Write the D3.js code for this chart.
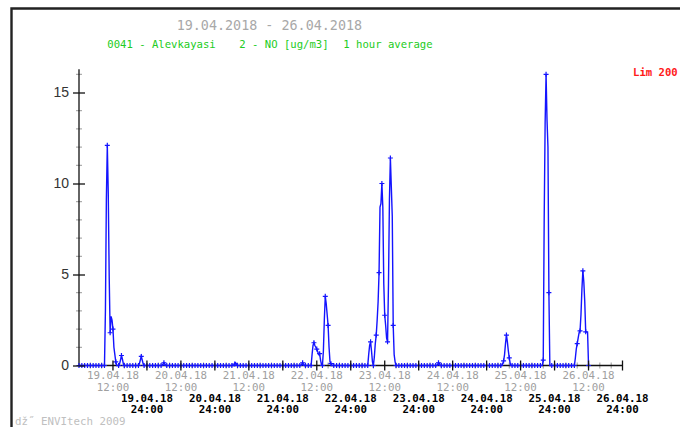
<!DOCTYPE html>
<html>
<head>
<meta charset="utf-8">
<script src="https://cdn.jsdelivr.net/npm/d3@7"></script>
<style>
  body { margin: 0; background: #fff; }
  svg { display: block; }
  text { font-family: "DejaVu Sans Mono", "Liberation Mono", monospace; }
</style>
</head>
<body>
<div id="chart"></div>
<script>
// period shown on the time axis
var periodStart = "2018-04-19 00:00";
var periodEnd = "2018-04-27 00:00";
var dataEnd = "2018-04-26 12:00";
var stepMinutes = 20; // resolution of the plotted line, markers sit on whole hours

// stretches where NO was above zero (everything else is 0)
var episodeStarts = [
  "2018-04-19 09:20", "2018-04-19 14:20", "2018-04-19 21:20", "2018-04-20 05:40",
  "2018-04-21 07:00", "2018-04-22 06:40", "2018-04-22 10:20", "2018-04-23 06:20",
  "2018-04-24 06:40", "2018-04-25 05:40", "2018-04-25 20:00", "2018-04-26 07:20"
];
var episodeValues = [
  [3.0, 9.1, 12.1, 9.5, 4.9, 1.8, 2.7, 2.5, 2.0, 1.0, 0.6, 0.2],
  [0.1, 0.3, 0.55, 0.35, 0.1],
  [0.1, 0.3, 0.5, 0.3, 0.1],
  [0.08, 0.15, 0.08],
  [0.08, 0.15, 0.08],
  [0.08, 0.15, 0.08],
  [0.6, 1.1, 1.25, 1.1, 1.0, 0.9, 0.75, 0.6, 0.65, 0.3, 0.05, 0, 0.8, 2.5, 3.8, 3.4, 2.8, 2.2, 1.0, 0.2, 0.1],
  [0.6, 1.1, 1.3, 0.8, 0.2, 0.0, 0.47, 1.2, 1.67, 2.5, 3.5, 5.1, 8.7, 8.9, 10.0, 8.7, 4.5, 2.76, 2.2, 1.5, 1.3, 4.5, 9.1, 11.4, 9.8, 8.2, 2.2, 0.6, 0.2],
  [0.05, 0.15, 0.1],
  [0.1, 0.25, 0.6, 1.2, 1.67, 1.3, 0.8, 0.42, 0.1],
  [0.3, 8.0, 13.3, 16.0, 13.5, 12.0, 4.0],
  [0.4, 0.9, 1.2, 1.5, 1.8, 1.9, 2.8, 4.2, 5.2, 4.6, 3.5, 1.85, 1.85, 1.8]
];

var yMajorTicks = [0, 5, 10, 15];
var titleText = "19.04.2018 - 26.04.2018";
var subtitleParts = ["0041 - Alevkayasi", "2 - NO [ug/m3]", "1 hour average"];
var limitText = "Lim 200";
var creditText = "dž˝ ENVItech 2009";

var width = 680, height = 427;
var parse = d3.timeParse("%Y-%m-%d %H:%M");
var fmtDay = d3.timeFormat("%d.%m.%y");

var svg = d3.select("#chart").append("svg")
  .attr("width", width)
  .attr("height", height);

svg.append("rect").attr("width", width).attr("height", height).attr("fill", "#fff");

// outer frame (only top and left edges are inside the picture)
svg.append("path")
  .attr("d", "M11.5," + height + "V8.5H" + width)
  .attr("fill", "none")
  .attr("stroke", "#222")
  .attr("stroke-width", 2.4);

// build the series on a 20 minute grid
var t0 = parse(periodStart), tEnd = parse(dataEnd);
var nSteps = Math.round((tEnd - t0) / 60000 / stepMinutes);
var values = new Array(nSteps + 1).fill(0);
episodeStarts.forEach(function(s, k) {
  var i0 = Math.round((parse(s) - t0) / 60000 / stepMinutes);
  episodeValues[k].forEach(function(v, j) { values[i0 + j] = v; });
});
var series = values.map(function(v, i) {
  return { date: d3.timeMinute.offset(t0, i * stepMinutes), value: v };
});

var x = d3.scaleTime()
  .domain([t0, parse(periodEnd)])
  .range([79, 622.5]);

var y = d3.scaleLinear()
  .domain([0, 16])
  .range([365.5, 74.3]);

// gray minor ticks (y every 1, x every 4 hours)
var yMinor = d3.range(1, 17).filter(function(d) { return d % 5 != 0; });
svg.append("g").selectAll("line").data(yMinor).enter().append("line")
  .attr("x1", 76).attr("x2", 82)
  .attr("y1", function(d) { return y(d); }).attr("y2", function(d) { return y(d); })
  .attr("stroke", "#999").attr("stroke-width", 1);

var xMinor = d3.timeHour.every(4).range(t0, parse(periodEnd)).filter(function(d) { return d.getHours() % 12 != 0; });
svg.append("g").selectAll("line").data(xMinor).enter().append("line")
  .attr("x1", function(d) { return x(d); }).attr("x2", function(d) { return x(d); })
  .attr("y1", y(0) - 3).attr("y2", y(0) + 3)
  .attr("stroke", "#999").attr("stroke-width", 1);

// axis lines
svg.append("line")
  .attr("x1", 79).attr("x2", 79).attr("y1", y(0)).attr("y2", y(16) - 5)
  .attr("stroke", "#111").attr("stroke-width", 1.3);
svg.append("line")
  .attr("x1", 79).attr("x2", x(parse(periodEnd))).attr("y1", y(0)).attr("y2", y(0))
  .attr("stroke", "#111").attr("stroke-width", 1.3);

// data line
var line = d3.line()
  .x(function(d) { return x(d.date); })
  .y(function(d) { return y(d.value); });

svg.append("path")
  .datum(series)
  .attr("d", line)
  .attr("fill", "none")
  .attr("stroke", "#1414ff")
  .attr("stroke-width", 1.4);

// "+" markers on every whole hour
var hourly = series.filter(function(d) { return d.date.getMinutes() == 0; });
svg.append("path")
  .attr("d", hourly.map(function(d) {
    var px = x(d.date), py = y(d.value);
    return "M" + (px - 2.5) + "," + py + "H" + (px + 2.5) + "M" + px + "," + (py - 2.5) + "V" + (py + 2.5);
  }).join(""))
  .attr("fill", "none")
  .attr("stroke", "#1414ff")
  .attr("stroke-width", 1.2);

// y axis: major ticks cross the axis, labels on the left
var yAxis = d3.axisLeft(y).tickValues(yMajorTicks).tickSize(6).tickPadding(4).tickFormat(d3.format("d"));
var gy = svg.append("g").attr("transform", "translate(79,0)").call(yAxis);
gy.select(".domain").remove();
gy.selectAll(".tick line").attr("x1", 6).attr("stroke", "#111").attr("stroke-width", 1.3);
gy.selectAll(".tick text")
  .attr("fill", "#333")
  .style("font-family", "'Liberation Sans', Arial, sans-serif")
  .style("font-size", "14px");

// x axis: black ticks every 12 hours
var xMajor = d3.timeHour.every(12).range(d3.timeHour.offset(t0, 12), d3.timeHour.offset(parse(periodEnd), 1));
svg.append("g").selectAll("line").data(xMajor).enter().append("line")
  .attr("x1", function(d) { return x(d); }).attr("x2", function(d) { return x(d); })
  .attr("y1", y(0) - 5).attr("y2", y(0) + 5)
  .attr("stroke", "#111").attr("stroke-width", 1.3);

var noonTicks = xMajor.filter(function(d) { return d.getHours() == 12; });
var midnightTicks = xMajor.filter(function(d) { return d.getHours() == 0; });

var gNoon = svg.append("g").selectAll("g").data(noonTicks).enter().append("g")
  .attr("transform", function(d) { return "translate(" + x(d) + ",0)"; });
gNoon.append("text").attr("y", 379).attr("text-anchor", "middle")
  .attr("fill", "#a0a0a0").style("font-size", "10.8px")
  .text(function(d) { return fmtDay(d); });
gNoon.append("text").attr("y", 391).attr("text-anchor", "middle")
  .attr("fill", "#a0a0a0").style("font-size", "10.8px")
  .text("12:00");

var gMid = svg.append("g").selectAll("g").data(midnightTicks).enter().append("g")
  .attr("transform", function(d) { return "translate(" + x(d) + ",0)"; });
gMid.append("text").attr("y", 401.7).attr("text-anchor", "middle")
  .attr("fill", "#000").style("font-size", "10.8px").style("font-weight", "bold")
  .text(function(d) { return fmtDay(d3.timeHour.offset(d, -1)); });
gMid.append("text").attr("y", 412.7).attr("text-anchor", "middle")
  .attr("fill", "#000").style("font-size", "10.8px").style("font-weight", "bold")
  .text("24:00");

// titles
svg.append("text")
  .attr("x", 176.7).attr("y", 29.5)
  .attr("fill", "#a8a8a8")
  .style("font-size", "13.4px")
  .text(titleText);

var subX = [107.3, 239.3, 343.3];
var sub = svg.append("text").attr("y", 48).attr("fill", "#22cc22").style("font-size", "10.6px");
subtitleParts.forEach(function(s, i) {
  sub.append("tspan").attr("x", subX[i]).text(s);
});

svg.append("text")
  .attr("x", 633).attr("y", 75.5)
  .attr("fill", "#ff1a1a")
  .style("font-size", "10.6px").style("font-weight", "bold")
  .text(limitText);

svg.append("text")
  .attr("x", 15).attr("y", 424.5)
  .attr("fill", "#c0c0c0")
  .style("font-size", "10.8px")
  .text(creditText);
</script>
</body>
</html>
